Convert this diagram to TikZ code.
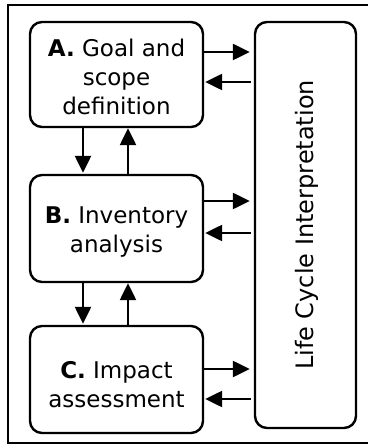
\documentclass[tikz,border=0pt]{standalone}
\usepackage{fontspec}
\setmainfont{DejaVu Sans}
\usetikzlibrary{arrows.meta}
\begin{document}
\begin{tikzpicture}[x=1pt,y=-1pt,
  stagebox/.style={draw, line width=2.4pt, rounded corners=12pt, inner sep=0pt, minimum width=173pt},
  stagetext/.style={align=center, inner sep=0pt, font=\fontsize{23}{29}\selectfont},
  flow/.style={line width=2.4pt, -{Triangle[length=17pt,width=16pt]}}]
\useasboundingbox (0,0) rectangle (367,446);
\draw[line width=2.2pt] (372,5) -- (8,5) -- (8,443) -- (372,443);
\node[stagebox, minimum height=105pt] (A) at (116.5,74.5) {};
\node[stagetext] (At) at ([yshift=-2pt]A.center) {\textbf{A.} Goal and\\scope\\definition};
\node[stagebox, minimum height=107pt] (B) at (116.5,228.5) {};
\node[stagetext] (Bt) at ([yshift=-4pt]B.center) {\textbf{B.} Inventory\\analysis};
\node[stagebox, minimum height=107pt] (C) at (116.5,379.5) {};
\node[stagetext] (Ct) at ([yshift=-5pt]C.center) {\textbf{C.} Impact\\assessment};
\node[draw, line width=2.4pt, rounded corners=12pt, minimum width=101pt, minimum height=406pt, inner sep=0pt] (L) at (305.5,225) {};
\node[rotate=90, font=\fontsize{24}{29}\selectfont, inner sep=0pt] (Lt) at (306.5,225) {Life Cycle Interpretation};
% horizontal arrows
\draw[flow, shorten >=4pt] (A.east |- 0,52) -- (L.west |- 0,52);
\draw[flow, shorten <=3pt, shorten >=1pt] (L.west |- 0,82) -- (A.east |- 0,82);
\draw[flow, shorten >=4pt] (B.east |- 0,201) -- (L.west |- 0,201);
\draw[flow, shorten <=3pt, shorten >=1pt] (L.west |- 0,233) -- (B.east |- 0,233);
\draw[flow, shorten >=4pt] (C.east |- 0,369) -- (L.west |- 0,369);
\draw[flow, shorten <=3pt, shorten >=1pt] (L.west |- 0,399) -- (C.east |- 0,399);
% vertical arrows
\draw[flow, shorten >=1pt] (A.south -| 83,0) -- (B.north -| 83,0);
\draw[flow] (B.north -| 128,0) -- (A.south -| 128,0);
\draw[flow, shorten >=1pt] (B.south -| 83,0) -- (C.north -| 83,0);
\draw[flow] (C.north -| 128,0) -- (B.south -| 128,0);
\end{tikzpicture}
\end{document}
